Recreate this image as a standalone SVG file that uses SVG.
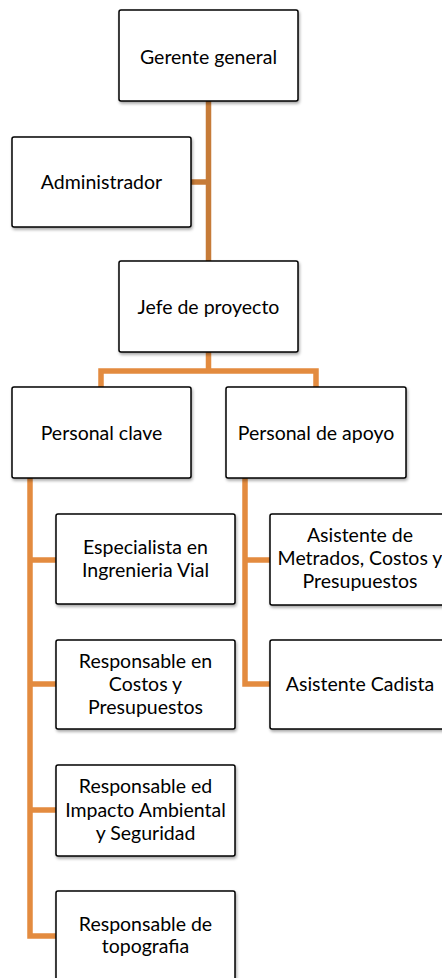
<svg xmlns="http://www.w3.org/2000/svg" width="442" height="978" viewBox="0 0 442 978">
<defs>
<filter id="sh" x="-10%" y="-10%" width="125%" height="130%">
<feDropShadow dx="1" dy="2" stdDeviation="1.5" flood-color="#000" flood-opacity="0.35"/>
</filter>
<style>
.box{fill:#fff;stroke:#000;stroke-width:1.5;filter:url(#sh)}
text{font-family:Lato,"Open Sans",sans-serif;font-size:19.5px;fill:#000;text-anchor:middle}
.c1{fill:none;stroke:#C67B38;stroke-width:5.5}
.c2{fill:none;stroke:#E38B3F;stroke-width:5.5}
</style>
</defs>
<rect width="442" height="978" fill="#fff"/>
<g id="connectors">
<path class="c1" d="M208.5 101V261M191 182H208.5"/>
<path class="c2" d="M208.5 352V371M101 387V371H316V387"/>
<path class="c2" d="M30 478V936H56M30 560H56M30 684H56M30 810H56"/>
<path class="c2" d="M245 478V684H270M245 560H270"/>
</g>
<g id="gerente"><rect class="box" x="119" y="10" width="179" height="91" rx="2"/><text x="208.5" y="64">Gerente general</text></g>
<g id="administrador"><rect class="box" x="12" y="137" width="179" height="90" rx="2"/><text x="101.5" y="189">Administrador</text></g>
<g id="jefe"><rect class="box" x="119" y="261" width="179" height="91" rx="2"/><text x="208.5" y="314">Jefe de proyecto</text></g>
<g id="personal-clave"><rect class="box" x="12" y="387" width="179" height="91" rx="2"/><text x="101.5" y="440">Personal clave</text></g>
<g id="personal-apoyo"><rect class="box" x="226" y="387" width="180" height="91" rx="2"/><text x="316" y="440">Personal de apoyo</text></g>
<g id="especialista"><rect class="box" x="56" y="514" width="179" height="90" rx="2"/><text x="145.5" y="554">Especialista en</text><text x="145.5" y="577">Ingrenieria Vial</text></g>
<g id="asistente-metrados"><rect class="box" x="270" y="514" width="180" height="91" rx="2"/><text x="360" y="542">Asistente de</text><text x="360" y="565">Metrados, Costos y</text><text x="360" y="588">Presupuestos</text></g>
<g id="responsable-costos"><rect class="box" x="56" y="640" width="179" height="89" rx="2"/><text x="145.5" y="668">Responsable en</text><text x="145.5" y="691">Costos y</text><text x="145.5" y="714">Presupuestos</text></g>
<g id="asistente-cadista"><rect class="box" x="270" y="640" width="180" height="89" rx="2"/><text x="360" y="691">Asistente Cadista</text></g>
<g id="responsable-impacto"><rect class="box" x="56" y="765" width="179" height="91" rx="2"/><text x="145.5" y="793">Responsable ed</text><text x="145.5" y="817">Impacto Ambiental</text><text x="145.5" y="840">y Seguridad</text></g>
<g id="responsable-topografia"><rect class="box" x="56" y="891" width="179" height="96" rx="2"/><text x="145.5" y="931">Responsable de</text><text x="145.5" y="953">topografia</text></g>
</svg>
